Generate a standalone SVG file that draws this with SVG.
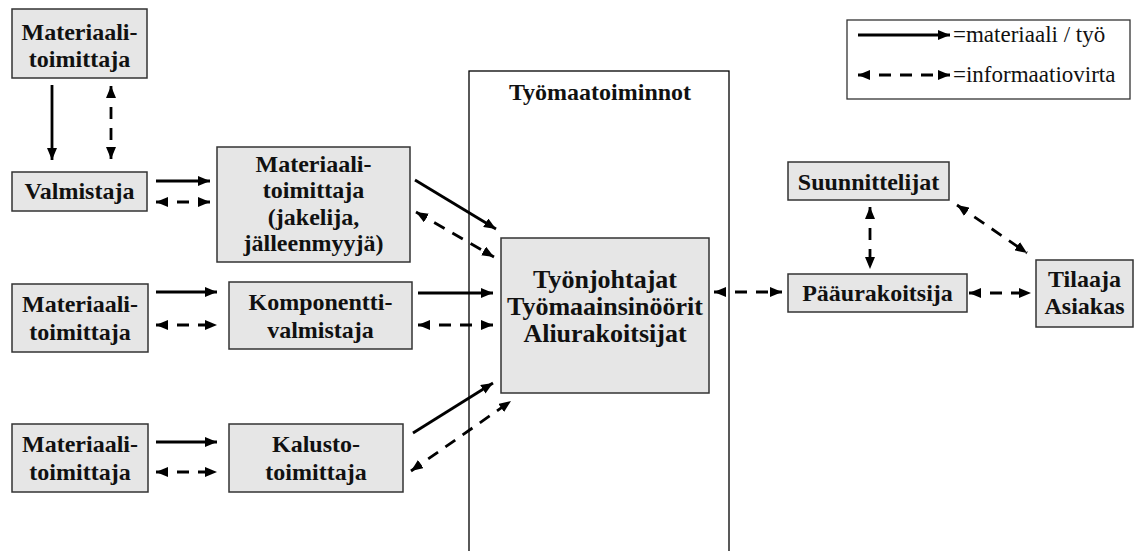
<svg xmlns="http://www.w3.org/2000/svg" width="1136" height="551" viewBox="0 0 1136 551">
  <style>
    .box { fill: #e6e6e6; stroke: #333333; stroke-width: 1.5; }
    .frame { fill: none; stroke: #000000; stroke-width: 1.3; }
    .lbl { font-family: "Liberation Serif", "Times New Roman", serif; font-weight: bold; font-size: 24px; fill: #111111; text-anchor: middle; }
    .big { font-size: 26px; }
    .leg { font-family: "Liberation Serif", "Times New Roman", serif; font-size: 23px; fill: #111111; }
    .solid { stroke: #000000; stroke-width: 2.8; fill: none; marker-end: url(#head); }
    .dash { stroke: #000000; stroke-width: 2.8; fill: none; stroke-dasharray: 12 9; marker-start: url(#head); marker-end: url(#head); }
  </style>
  <defs>
    <marker id="head" viewBox="0 0 12 10" refX="12" refY="5" markerWidth="12" markerHeight="10" markerUnits="userSpaceOnUse" orient="auto-start-reverse">
      <path d="M0,0 L12,5 L0,10 z" fill="#000000"/>
    </marker>
  </defs>
  <rect width="1136" height="551" fill="#ffffff"/>

  <!-- site operations frame -->
  <g id="tyomaatoiminnot">
    <rect class="frame" x="469" y="71" width="260" height="500"/>
    <text class="lbl" x="600" y="100">Työmaatoiminnot</text>
  </g>

  <!-- legend -->
  <g id="legend">
    <rect x="847" y="20" width="283" height="79" fill="#ffffff" stroke="#333333" stroke-width="1.3"/>
    <line class="solid" x1="858" y1="35" x2="950" y2="35"/>
    <text class="leg" x="953" y="42">=materiaali / työ</text>
    <line class="dash" x1="858" y1="75" x2="950" y2="75"/>
    <text class="leg" x="953" y="82">=informaatiovirta</text>
  </g>

  <g id="materiaalitoimittaja-top">
    <rect class="box" x="12" y="9" width="135" height="69"/>
    <text class="lbl" x="79.5" y="40">Materiaali-</text>
    <text class="lbl" x="79.5" y="67">toimittaja</text>
  </g>

  <g id="valmistaja">
    <rect class="box" x="12" y="172" width="135" height="39"/>
    <text class="lbl" x="79.5" y="199">Valmistaja</text>
  </g>

  <g id="jakelija">
    <rect class="box" x="217" y="147" width="193" height="115"/>
    <text class="lbl" x="313.5" y="172">Materiaali-</text>
    <text class="lbl" x="313.5" y="198">toimittaja</text>
    <text class="lbl" x="313.5" y="225">(jakelija,</text>
    <text class="lbl" x="313.5" y="251">jälleenmyyjä)</text>
  </g>

  <g id="materiaalitoimittaja-mid">
    <rect class="box" x="12" y="284" width="136" height="68"/>
    <text class="lbl" x="80" y="312">Materiaali-</text>
    <text class="lbl" x="80" y="340">toimittaja</text>
  </g>

  <g id="komponenttivalmistaja">
    <rect class="box" x="229" y="282" width="183" height="67"/>
    <text class="lbl" x="320.5" y="310">Komponentti-</text>
    <text class="lbl" x="320.5" y="338">valmistaja</text>
  </g>

  <g id="materiaalitoimittaja-low">
    <rect class="box" x="12" y="424" width="136" height="68"/>
    <text class="lbl" x="80" y="452">Materiaali-</text>
    <text class="lbl" x="80" y="480">toimittaja</text>
  </g>

  <g id="kalustotoimittaja">
    <rect class="box" x="229" y="424" width="174" height="68"/>
    <text class="lbl" x="316" y="452">Kalusto-</text>
    <text class="lbl" x="316" y="480">toimittaja</text>
  </g>

  <g id="tyonjohtajat">
    <rect class="box" x="501" y="238" width="208" height="155"/>
    <text class="lbl big" x="605" y="288">Työnjohtajat</text>
    <text class="lbl big" x="605" y="315">Työmaainsinöörit</text>
    <text class="lbl big" x="605" y="342">Aliurakoitsijat</text>
  </g>

  <g id="suunnittelijat">
    <rect class="box" x="788" y="162" width="161" height="38"/>
    <text class="lbl" x="868.5" y="190">Suunnittelijat</text>
  </g>

  <g id="paaurakoitsija">
    <rect class="box" x="788" y="274" width="179" height="38"/>
    <text class="lbl" x="877.5" y="301">Pääurakoitsija</text>
  </g>

  <g id="tilaaja">
    <rect class="box" x="1036" y="260" width="97" height="67"/>
    <text class="lbl" x="1084.5" y="287">Tilaaja</text>
    <text class="lbl" x="1084.5" y="314">Asiakas</text>
  </g>

  <g id="connectors">
    <!-- supplier to manufacturer -->
    <line class="solid" x1="52" y1="85" x2="52" y2="160"/>
    <line class="dash" x1="111" y1="86" x2="111" y2="159"/>
    <!-- manufacturer to distributor -->
    <line class="solid" x1="156" y1="181" x2="210" y2="181"/>
    <line class="dash" x1="156" y1="202" x2="210" y2="202"/>
    <!-- distributor to site -->
    <line class="solid" x1="415" y1="180" x2="496" y2="229"/>
    <line class="dash" x1="416" y1="212" x2="494" y2="257"/>
    <!-- component row -->
    <line class="solid" x1="156" y1="292" x2="217" y2="292"/>
    <line class="dash" x1="156" y1="325" x2="217" y2="325"/>
    <line class="solid" x1="418" y1="293" x2="493" y2="293"/>
    <line class="dash" x1="418" y1="325" x2="493" y2="325"/>
    <!-- equipment row -->
    <line class="solid" x1="156" y1="442" x2="217" y2="442"/>
    <line class="dash" x1="156" y1="472" x2="217" y2="472"/>
    <line class="solid" x1="413" y1="433" x2="493" y2="383"/>
    <line class="dash" x1="411" y1="471" x2="511" y2="401"/>
    <!-- site to main contractor and client side -->
    <line class="dash" x1="714" y1="292" x2="782" y2="292"/>
    <line class="dash" x1="969" y1="293" x2="1031" y2="293"/>
    <line class="dash" x1="870" y1="207" x2="870" y2="269"/>
    <line class="dash" x1="957" y1="205" x2="1027" y2="253"/>
  </g>
</svg>
